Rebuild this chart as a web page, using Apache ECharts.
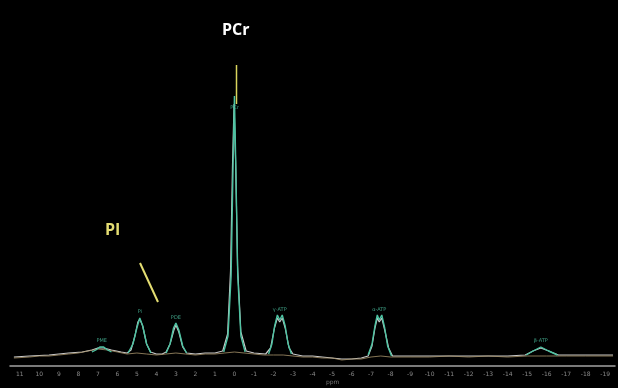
<!DOCTYPE html>
<html>
<head>
<meta charset="utf-8">
<script src="https://cdn.jsdelivr.net/npm/echarts@6/dist/echarts.min.js"></script>
<style>
  html, body { margin: 0; padding: 0; background: #000; }
  #chart { width: 618px; height: 388px; }
</style>
</head>
<body>
<div id="chart"></div>
<script>
// measured spectrum (ppm, intensity)
const measured = [
  [11.3, 9], [10.5, 10], [9.5, 11], [8.5, 13], [7.8, 14], [7.3, 16], [7.0, 18], [6.7, 18],
  [6.3, 16], [5.8, 14], [5.5, 13], [5.3, 16], [5.1, 30], [4.95, 44], [4.85, 47], [4.7, 40],
  [4.5, 22], [4.3, 14], [4.0, 12], [3.7, 12], [3.5, 14], [3.3, 22], [3.1, 36], [3.0, 41],
  [2.85, 34], [2.65, 19], [2.45, 13], [2.0, 12], [1.5, 13], [1.0, 13], [0.6, 15], [0.35, 32],
  [0.2, 95], [0.1, 200], [0.02, 262], [-0.06, 205], [-0.16, 100], [-0.33, 34], [-0.6, 15],
  [-1.0, 13], [-1.6, 12], [-1.85, 18], [-2.05, 38], [-2.2, 48], [-2.32, 44], [-2.45, 48],
  [-2.6, 38], [-2.8, 18], [-3.0, 12], [-3.5, 10], [-4.0, 10], [-4.5, 9], [-5.0, 8], [-5.5, 7],
  [-6.0, 7], [-6.5, 8], [-6.85, 10], [-7.05, 20], [-7.2, 38], [-7.32, 48], [-7.42, 44],
  [-7.55, 48], [-7.7, 36], [-7.9, 18], [-8.1, 10], [-8.5, 10], [-9, 10], [-10, 10], [-11, 10],
  [-12, 10], [-13, 10], [-14, 10], [-14.9, 11], [-15.3, 15], [-15.7, 18], [-16.1, 15],
  [-16.6, 11], [-17, 11], [-18, 11], [-19.4, 11]
];

// raw / unfiltered trace
const raw = [
  [11.3, 8], [10.5, 9], [10, 10], [9.5, 10], [9, 11], [8.5, 12], [8, 13], [7.5, 15], [7, 17],
  [6.5, 16], [6, 14], [5.5, 12], [5, 13], [4.5, 12], [4, 11], [3.5, 12], [3, 13], [2.5, 12],
  [2, 11], [1.5, 12], [1, 12], [0.5, 13], [0, 14], [-0.5, 13], [-1, 12], [-1.5, 11], [-2, 11],
  [-2.5, 11], [-3, 10], [-3.5, 9], [-4, 9], [-4.5, 8], [-5, 8], [-5.5, 6], [-6, 7], [-6.5, 7],
  [-7, 9], [-7.5, 10], [-8, 9], [-9, 9], [-10, 9], [-11, 10], [-12, 9], [-13, 10], [-14, 9],
  [-15, 10], [-16, 10], [-17, 10], [-18, 10], [-19.4, 10]
];

// fitted peaks
const fitPME = [[7.3, 14], [7.1, 16], [6.9, 19], [6.7, 19], [6.5, 16], [6.3, 14]];
const fitPi = [[5.45, 13], [5.2, 22], [5.0, 38], [4.85, 48], [4.7, 40], [4.5, 22], [4.28, 13]];
const fitPDE = [[3.5, 13], [3.3, 22], [3.12, 38], [3.0, 43], [2.85, 36], [2.65, 20], [2.45, 13]];
const fitPCr = [[0.55, 14], [0.33, 30], [0.17, 90], [0.07, 200], [0, 270], [-0.07, 200],
  [-0.17, 90], [-0.33, 30], [-0.55, 14]];
const fitGATP = [[-1.75, 12], [-1.92, 22], [-2.06, 40], [-2.2, 51], [-2.32, 46], [-2.45, 51],
  [-2.6, 40], [-2.75, 22], [-2.92, 12]];
const fitAATP = [[-6.85, 11], [-7.05, 22], [-7.2, 40], [-7.32, 51], [-7.42, 46], [-7.55, 51],
  [-7.7, 38], [-7.85, 20], [-8.05, 10]];
const fitBATP = [[-14.95, 11], [-15.3, 15], [-15.7, 19], [-16.1, 15], [-16.55, 11]];

// peak names and label anchors
const peakNames = ['PME', 'Pi', 'PDE', 'PCr', 'γ-ATP', 'α-ATP', 'β-ATP'];
const peakPos = [[6.8, 25], [4.85, 54], [3.0, 48], [0, 258], [-2.32, 56], [-7.42, 56], [-15.7, 25]];

const fitPeaks = [fitPME, fitPi, fitPDE, fitPCr, fitGATP, fitAATP, fitBATP];
const fitLine = [];
fitPeaks.forEach((p, i) => {
  if (i > 0) fitLine.push([null, null]);
  p.forEach((d) => fitLine.push(d));
});

const chart = echarts.init(document.getElementById('chart'));

const teal = '#4cc3a2';

const option = {
  backgroundColor: '#000',
  animation: false,
  grid: { left: 10, right: -2, top: 0, bottom: 22 },
  xAxis: {
    type: 'value',
    inverse: true,
    min: -19.5,
    max: 11.5,
    interval: 0.5,
    splitLine: { show: false },
    axisTick: { show: false },
    axisLine: { lineStyle: { color: '#a3a3a3', width: 1.5 } },
    axisLabel: {
      color: '#8a8a8a',
      fontSize: 6,
      margin: 5,
      fontFamily: 'DejaVu Sans',
      formatter: (v) => (Number.isInteger(v) ? String(v) : ''),
    },
  },
  yAxis: {
    type: 'value',
    min: 0,
    max: 366,
    show: false,
  },
  graphic: [
    {
      type: 'text',
      left: 222,
      top: 22,
      style: { text: 'PCr', fill: '#ffffff', font: 'bold 16px "Open Sans"' },
    },
    {
      type: 'text',
      left: 105,
      top: 222,
      style: { text: 'PI', fill: '#e4dd72', font: 'bold 16px "Open Sans"' },
    },
    {
      type: 'line',
      shape: { x1: 140, y1: 263, x2: 158, y2: 302 },
      style: { stroke: '#e4dd72', lineWidth: 2 },
    },
    {
      type: 'line',
      shape: { x1: 236.5, y1: 65, x2: 236.5, y2: 104 },
      style: { stroke: '#d9d45c', lineWidth: 1.5 },
    },
    {
      type: 'text',
      left: 326,
      top: 379,
      style: { text: 'ppm', fill: '#777', font: '6px "DejaVu Sans"' },
    },
  ],
  series: [
    {
      name: 'measured',
      type: 'line',
      data: measured,
      showSymbol: false,
      lineStyle: { color: '#c9c9c9', width: 1.2 },
      z: 2,
    },
    {
      name: 'raw',
      type: 'line',
      data: raw,
      showSymbol: false,
      lineStyle: { color: '#a8936c', width: 1, opacity: 0.8 },
      z: 3,
    },
    {
      name: 'fit',
      type: 'line',
      data: fitLine,
      showSymbol: false,
      connectNulls: false,
      lineStyle: { color: teal, width: 1.4 },
      z: 4,
    },
    {
      name: 'labels',
      type: 'scatter',
      symbolSize: 0,
      data: peakPos.map((p, i) => ({ value: p, name: peakNames[i] })),
      label: {
        show: true,
        position: 'inside',
        formatter: (p) => p.name,
        color: teal,
        fontSize: 5,
        fontFamily: 'DejaVu Sans',
      },
      z: 5,
    },
  ],
};

chart.setOption(option);
</script>
</body>
</html>
